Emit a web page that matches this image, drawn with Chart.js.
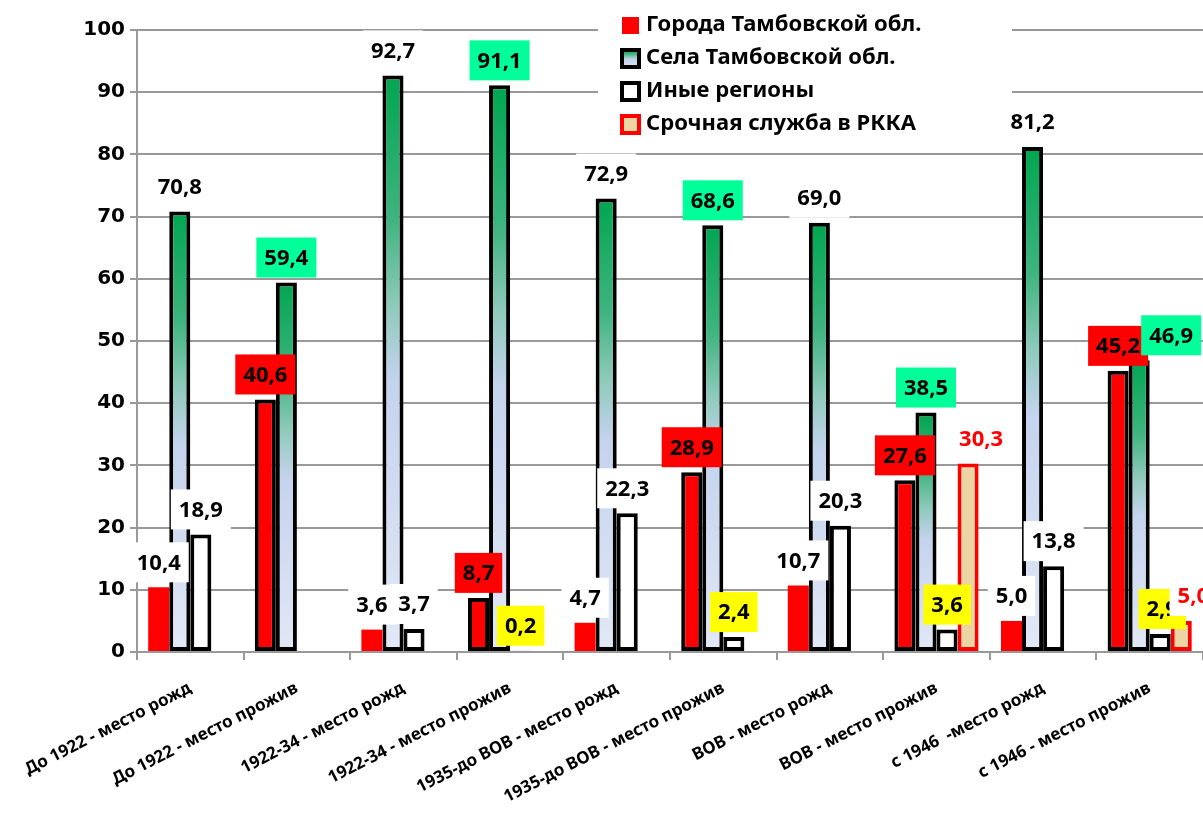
<!DOCTYPE html>
<html>
<head>
<meta charset="utf-8">
<script src="https://cdn.jsdelivr.net/npm/chart.js@4.4.1/dist/chart.umd.min.js"></script>
<style>
  body { margin: 0; background: #fff; }
</style>
</head>
<body>
<canvas id="chart" width="1203" height="816"></canvas>
<script>
const categories = [
  "До 1922 - место рожд",
  "До 1922 - место прожив",
  "1922-34 - место рожд",
  "1922-34 - место прожив",
  "1935-до ВОВ - место рожд",
  "1935-до ВОВ - место прожив",
  "ВОВ - место рожд",
  "ВОВ - место прожив",
  "с 1946  -место рожд",
  "с 1946 - место прожив",
];
const seriesNames = [
  "Города Тамбовской обл.",
  "Села Тамбовской обл.",
  "Иные регионы",
  "Срочная служба в РККА",
];
const gorodaValues = [10.4, 40.6, 3.6, 8.7, 4.7, 28.9, 10.7, 27.6, 5.0, 45.2];
const selaValues = [70.8, 59.4, 92.7, 91.1, 72.9, 68.6, 69.0, 38.5, 81.2, 46.9];
const inyeValues = [18.9, null, 3.7, 0.2, 22.3, 2.4, 20.3, 3.6, 13.8, 2.9];
const srochnayaValues = [null, null, null, null, null, null, null, 30.3, null, 5.0];
const yTicks = [0, 10, 20, 30, 40, 50, 60, 70, 80, 90, 100];

const TAN = "#ecd5a2";

// градиент для сел - по высоте каждого столбика
function selaGradient(chart, top, bottom) {
  const g = chart.ctx.createLinearGradient(0, top, 0, bottom);
  g.addColorStop(0, "#00a650");
  g.addColorStop(0.25, "#3fb47f");
  g.addColorStop(0.4, "#8ecabb");
  g.addColorStop(0.53, "#c4d3ee");
  g.addColorStop(1, "#e2e8f6");
  return g;
}
function selaFill(ctx) {
  const chart = ctx.chart;
  if (!chart.chartArea || ctx.type !== "data" || ctx.raw == null) return "#8ecabb";
  const y = chart.scales.y;
  return selaGradient(chart, y.getPixelForValue(ctx.raw), y.getPixelForValue(0));
}

const fmt = (v) => v.toFixed(1).replace(".", ",");

// подписи: фон зависит от ряда и от типа категории (рожд / прожив)
function labelStyle(ds, i) {
  const prozhiv = i % 2 === 1;
  if (ds === 0) return { bg: prozhiv ? "#ff0000" : "#ffffff", color: "#000" };
  if (ds === 1) return { bg: prozhiv ? "#00ff99" : "#ffffff", color: "#000" };
  if (ds === 2) return { bg: prozhiv ? "#ffff00" : "#ffffff", color: "#000" };
  return { bg: "#ffffff", color: "#ff0000" };
}
const labelShift = { "1-9": 32, "3-7": 13, "3-9": 12, "2-9": 2 };

const labelsPlugin = {
  id: "valueLabels",
  afterDatasetsDraw(chart) {
    const ctx = chart.ctx;
    ctx.save();
    // легенда
    ctx.fillStyle = "#fff";
    ctx.fillRect(598, 0, 414, 140);
    const rows = [25, 58, 91, 124];
    ctx.font = "bold 22px 'Noto Sans'";
    ctx.textBaseline = "middle";
    ctx.textAlign = "left";
    rows.forEach((ry, k) => {
      if (k === 0) {
        ctx.fillStyle = "#ff0000";
        ctx.fillRect(622, ry - 8, 17, 17);
      } else {
        const fill = k === 1 ? selaGradient(chart, ry - 9, ry + 11) : k === 2 ? "#fff" : TAN;
        ctx.fillStyle = k === 3 ? "#ff0000" : "#000";
        ctx.fillRect(620, ry - 10, 21, 21);
        ctx.fillStyle = fill;
        ctx.fillRect(624, ry - 6, 13, 13);
      }
      ctx.fillStyle = "#000";
      ctx.fillText(seriesNames[k], 646, ry);
    });

    ctx.font = "bold 22px 'Noto Sans'";
    ctx.textAlign = "center";
    chart.data.datasets.forEach((d, ds) => {
      const meta = chart.getDatasetMeta(ds);
      meta.data.forEach((el, i) => {
        const v = d.data[i];
        if (v == null) return;
        const st = labelStyle(ds, i);
        const text = fmt(v);
        const x = el.x + (labelShift[ds + "-" + i] || 0);
        const y = el.y - 25;
        const w = ctx.measureText(text).width + 16;
        ctx.fillStyle = st.bg;
        ctx.fillRect(x - w / 2, y - 20, w, 40);
        ctx.fillStyle = st.color;
        ctx.fillText(text, x, y + 1);
      });
    });
    ctx.restore();
  },
};

new Chart(document.getElementById("chart"), {
  type: "bar",
  data: {
    labels: categories,
    datasets: [
      {
        label: seriesNames[0],
        data: gorodaValues,
        backgroundColor: "#ff0000",
        borderColor: "#000",
        borderWidth: categories.map((c, i) => (i % 2 === 1 ? 4 : 0)),
      },
      {
        label: seriesNames[1],
        data: selaValues,
        backgroundColor: selaFill,
        borderColor: "#000",
        borderWidth: 4,
      },
      {
        label: seriesNames[2],
        data: inyeValues,
        backgroundColor: "#ffffff",
        borderColor: "#000",
        borderWidth: 4,
      },
      {
        label: seriesNames[3],
        data: srochnayaValues,
        backgroundColor: TAN,
        borderColor: "#ff0000",
        borderWidth: 4,
      },
    ],
  },
  options: {
    responsive: false,
    devicePixelRatio: 1,
    animation: false,
    layout: { padding: { top: 30, right: 0, bottom: 0, left: 0 } },
    datasets: {
      bar: { barPercentage: 1, categoryPercentage: 0.79, borderSkipped: false },
    },
    plugins: { legend: { display: false }, tooltip: { enabled: false } },
    scales: {
      x: {
        afterFit: (s) => { s.height = 164; },
        grid: { drawOnChartArea: false, color: "#999", lineWidth: 2, tickLength: 8 },
        border: { color: "#999", width: 2 },
        ticks: {
          autoSkip: false,
          minRotation: 27,
          maxRotation: 27,
          padding: 18,
          color: "#000",
          font: { family: "'Noto Sans'", size: 17, weight: "bold" },
        },
      },
      y: {
        min: 0,
        max: 100,
        afterFit: (s) => { s.width = 137; },
        afterBuildTicks: (s) => { s.ticks = yTicks.map((v) => ({ value: v })); },
        grid: { color: "#999", lineWidth: 2, tickLength: 7 },
        border: { color: "#999", width: 2 },
        ticks: {
          padding: 5,
          color: "#000",
          font: { family: "'DejaVu Sans'", size: 20, weight: "bold" },
        },
      },
    },
  },
  plugins: [labelsPlugin],
});
</script>
</body>
</html>
